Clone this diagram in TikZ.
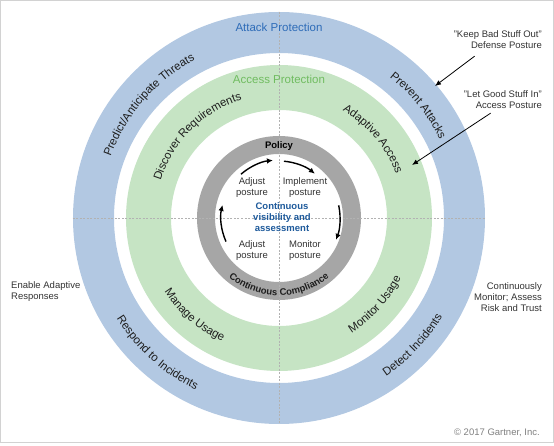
\documentclass[tikz,border=0pt]{standalone}
\usepackage{fontspec}
\setmainfont{Liberation Sans}
\usetikzlibrary{arrows.meta,decorations.text}

\definecolor{attackblue}{RGB}{178,200,226}
\definecolor{accessgreen}{RGB}{198,228,196}
\definecolor{policygray}{RGB}{166,166,166}
\definecolor{attackink}{RGB}{46,108,184}
\definecolor{accessink}{RGB}{112,188,96}
\definecolor{visink}{RGB}{30,90,155}
\definecolor{ringink}{RGB}{30,30,30}

\newcommand\ringfont{\fontsize{11.5}{13}\selectfont}
\newcommand\notefont{\fontsize{9.5}{11}\selectfont}
\def\arctext[#1](#2:#3:#4)#5{\path[decorate,decoration={text along path,text align=center,text color=ringink,text={|#1|#5}}] (#2:#4) arc (#2:#3:#4);}

\tikzset{
  axisline/.style={gray!60, line width=0.5pt, dash pattern=on 2pt off 1.5pt},
  note/.style={font=\notefont, text=black!80, inner sep=0pt},
  cyclearrow/.style={line width=1.4pt, -{Latex[length=6pt,width=5.5pt]}},
  pointer/.style={line width=0.8pt, -{Latex[length=6pt,width=5pt]}},
}

\begin{document}
\begin{tikzpicture}[x=1pt,y=1pt]
		%%%%% START %%%%%
		\useasboundingbox (-279,218) rectangle (275,-228);
		\draw[gray!35, line width=1pt] (-278.5,217.5) rectangle (274,-225);
		
		% rings
		\draw[attackblue, line width=41pt] (0,0) circle (185.5);
		\draw[accessgreen, line width=45pt] (0,0) circle (130.5);
		\draw[policygray, line width=18pt] (0,0) circle (73);
		
		\draw[axisline] (-206,0) -- (206,0);
		\draw[axisline] (0,206) -- (0,-206);
		
		% ring titles
		\node[font=\ringfont, text=attackink] (attack) at (0,191) {Attack Protection};
		\node[font=\ringfont, text=accessink] (access) at (0,139) {Access Protection};
		\node[note, font=\bfseries\notefont, text=black] (policy) at (0,72) {Policy};
		
		% text along the rings
		\arctext[\ringfont](179:99:179){Predict/Anticipate Threats}
		\arctext[\ringfont](79:-1:179){Prevent Attacks}
		\arctext[\ringfont](175:95:124){Discover Requirements}
		\arctext[\ringfont](80:0:125){Adaptive Access}
		\arctext[\ringfont](178:278:191){Respond to Incidents}
		\arctext[\ringfont](276.5:356.5:191){Detect Incidents}
		\arctext[\ringfont](189:269:136){Manage Usage}
		\arctext[\ringfont](278:358:136){Monitor Usage}
		\arctext[\bfseries\notefont](215:325:77.5){Continuous Compliance}
		
		% inner cycle
		\node[note, align=center] (adjusttop) at (-27,30.5) {Adjust\\posture};
		\node[note, align=center] (implement) at (26,30.5) {Implement\\posture};
		\node[note, align=center, font=\bfseries\notefont, text=visink] (visibility) at (3,0.5) {Continuous\\visibility and\\assessment};
		\node[note, align=center] (adjustlow) at (-27,-32.5) {Adjust\\posture};
		\node[note, align=center] (monitor) at (26,-32.5) {Monitor\\posture};
		
		\draw[cyclearrow] (131:58) arc (131:96:58);
		\draw[cyclearrow] (85:57) arc (85:51:57);
		\draw[cyclearrow] (12:61) arc (12:-21:61);
		\draw[cyclearrow] (204:58) arc (204:167:58);
		
		% side notes
		\node[note, align=right, anchor=east] (keepbad) at (263,178) {"Keep Bad Stuff Out"\\Defense Posture};
		\node[note, align=right, anchor=east] (letgood) at (263,118.5) {"Let Good Stuff In"\\Access Posture};
		\node[note, align=left, anchor=west] (enable) at (-268,-74) {Enable Adaptive\\Responses};
		\node[note, align=right, anchor=east] (continuously) at (263,-79) {Continuously\\Monitor; Assess\\Risk and Trust};
		\node[note, anchor=east, text=gray] (copyright) at (261,-215) {\textcopyright{} 2017 Gartner, Inc.};
		
		\coordinate (defensetip) at (156,132);
		\coordinate (accesstip) at (133,53);
		\draw[pointer] ([xshift=21pt,yshift=-7pt]keepbad.south west) -- (defensetip);
		\draw[pointer] ([xshift=27pt,yshift=-4.5pt]letgood.south west) -- (accesstip);
		
		%%%%% END %%%%%
\end{tikzpicture}
\end{document}
